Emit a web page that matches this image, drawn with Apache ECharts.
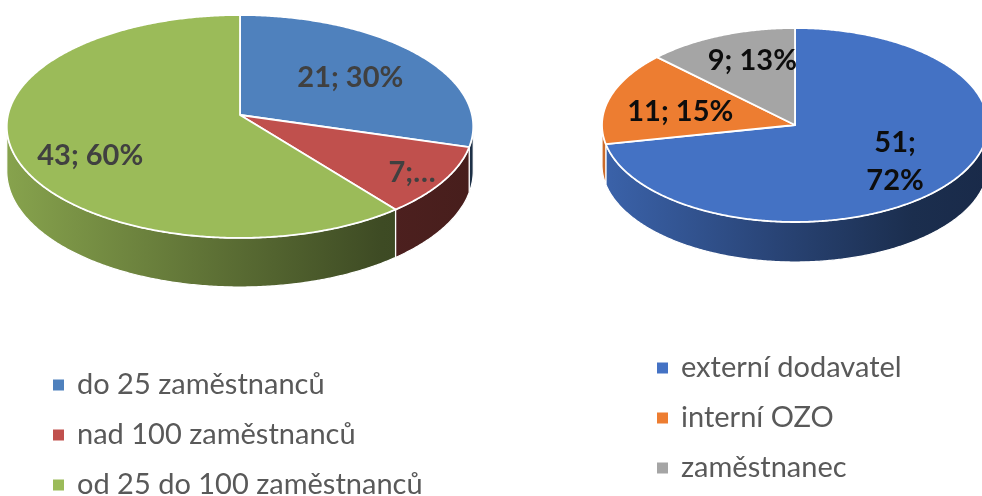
<!DOCTYPE html>
<html><head><meta charset="utf-8">
<script src="https://cdn.jsdelivr.net/npm/echarts@6/dist/echarts.min.js"></script>
<style>html,body{margin:0;padding:0;background:#fff}#c{width:982px;height:496px}</style>
</head><body><div id="c"></div>
<script>
// ---- data ----
const leftCategories = ['do 25 zaměstnanců', 'nad 100 zaměstnanců', 'od 25 do 100 zaměstnanců'];
const leftValues = [21, 7, 43];
const leftLabels = ['21; 30%', '7;…', '43; 60%'];
const rightCategories = ['externí dodavatel', 'interní OZO', 'zaměstnanec'];
const rightValues = [51, 11, 9];
const rightLabels = ['51;\n72%', '11; 15%', '9; 13%'];

// ---- styles / layout ----
const leftColors = ['#4F81BD', '#C0504D', '#9BBB59'];
const rightColors = ['#4472C4', '#ED7D31', '#A5A5A5'];
const leftGeom = {cx: 240, cy: 115, rx: 232, ry: 110.3, k: 0.103, h: 44, labelColor: '#404040',
  labelPos: [[0.63, 0.6], [0.845, 0.87], [0.66, 1.08]]};
const rightGeom = {cx: 795, cy: 125, rx: 193, ry: 97, k: 0, h: 40, labelColor: '#0d0d0d',
  labelPos: [[0.67, 0.59], [0.62, 0.47], [0.57, 0.72]]};

function shade(hex, f) {
  const n = parseInt(hex.slice(1), 16);
  const r = Math.round(((n >> 16) & 255) * f), g = Math.round(((n >> 8) & 255) * f), b = Math.round((n & 255) * f);
  return 'rgb(' + r + ',' + g + ',' + b + ')';
}
function rim(G, t, drop) {
  const u = Math.sin(t), v = Math.cos(t);
  const s = 1 / (1 + G.k * v);
  return [G.cx + G.rx * u * s, G.cy - G.ry * v * s + drop * s];
}
function arcPts(G, a, b, drop) {
  const pts = [];
  const n = Math.max(2, Math.ceil((b - a) / (Math.PI / 360)));
  for (let j = 0; j <= n; j++) pts.push(rim(G, a + (b - a) * j / n, drop));
  return pts;
}
function makeSeries(cats, vals, labels, colors, G) {
  const total = vals.reduce((a, b) => a + b, 0);
  return cats.map((name, i) => ({
    type: 'custom', name: name, coordinateSystem: 'none', silent: true,
    itemStyle: {color: colors[i]},
    data: [{value: vals[i], name: name}],
    renderItem: function (params, api) {
      const v = api.value(0);
      const start = vals.slice(0, i).reduce((a, b) => a + b, 0);
      const a0 = start / total * 2 * Math.PI, a1 = (start + v) / total * 2 * Math.PI;
      const c = api.visual('color');
      const children = [];
      const thL = Math.acos(-G.k), thR = 2 * Math.PI - thL;
      const lo = Math.max(a0, thL), hi = Math.min(a1, thR);
      if (hi > lo) {
        const top = arcPts(G, lo, hi, 0);
        const bot = arcPts(G, lo, hi, G.h).reverse();
        children.push({
          type: 'polygon', shape: {points: top.concat(bot)},
          style: {
            fill: {type: 'linear', x: G.cx - G.rx * 1.01, y: 0, x2: G.cx + G.rx * 1.01, y2: 0, global: true,
              colorStops: [{offset: 0, color: shade(c, 0.87)}, {offset: 0.45, color: shade(c, 0.6)},
                {offset: 0.8, color: shade(c, 0.4)}, {offset: 1, color: shade(c, 0.37)}]},
            stroke: '#fff', lineWidth: 1.2, lineJoin: 'round'
          }
        });
      }
      const pts = [[G.cx, G.cy]].concat(arcPts(G, a0, a1, 0));
      children.push({type: 'polygon', shape: {points: pts},
        style: {fill: c, stroke: '#fff', lineWidth: 1.8, lineJoin: 'round'}});
      const mid = (a0 + a1) / 2;
      const rp = rim(G, mid, 0);
      const lp = G.labelPos[i];
      children.push({type: 'text', z2: 10, style: {
        x: G.cx + (rp[0] - G.cx) * lp[0], y: G.cy + (rp[1] - G.cy) * lp[1],
        text: labels[i], fill: G.labelColor, fontFamily: 'Lato', fontWeight: 'bold', fontSize: 29,
        lineHeight: 38, align: 'center', verticalAlign: 'middle'
      }});
      return {type: 'group', children: children};
    }
  }));
}

const chart = echarts.init(document.getElementById('c'), null, {renderer: 'canvas'});
const legendText = {fontFamily: 'Lato', fontSize: 29, color: '#595959', lineHeight: 30, padding: [0, 0, 0, 8]};
chart.setOption({
  animation: false,
  backgroundColor: '#fff',
  legend: [
    {data: leftCategories, orient: 'vertical', left: 53, top: 370, height: 200, width: 420, padding: 0, itemGap: 20,
      icon: 'rect', itemWidth: 11, itemHeight: 11, textStyle: legendText, selectedMode: false},
    {data: rightCategories, orient: 'vertical', left: 657, top: 353, height: 200, width: 320, padding: 0, itemGap: 20,
      icon: 'rect', itemWidth: 11, itemHeight: 11, textStyle: legendText, selectedMode: false}
  ],
  series: makeSeries(leftCategories, leftValues, leftLabels, leftColors, leftGeom)
    .concat(makeSeries(rightCategories, rightValues, rightLabels, rightColors, rightGeom))
});
</script></body></html>
